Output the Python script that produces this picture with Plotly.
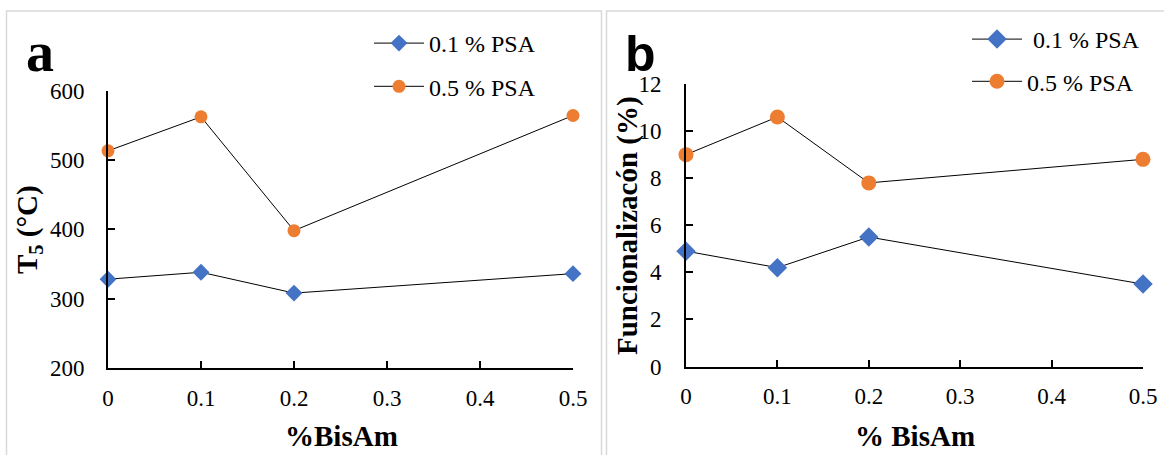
import plotly.graph_objects as go

# ---- data ----
bisam = [0, 0.1, 0.2, 0.5]
t5_psa01 = [328, 338, 308, 336]
t5_psa05 = [513, 562, 398, 564]
func_psa01 = [4.9, 4.2, 5.5, 3.5]
func_psa05 = [9.0, 10.6, 7.8, 8.8]
series_names = ["0.1 % PSA", "0.5 % PSA"]
x_ticks = [0, 0.1, 0.2, 0.3, 0.4, 0.5]
x_ticklabels = ["0", "0.1", "0.2", "0.3", "0.4", "0.5"]

W, H = 1164, 455
BLUE = "#4472C4"
ORANGE = "#ED7D31"
SERIF = "Liberation Serif"

def px(x):
    return x / W

def py(y):
    return 1 - y / H

fig = go.Figure()

# panel a
fig.add_trace(go.Scatter(x=bisam, y=t5_psa01, name=series_names[0], mode="lines+markers",
                         line=dict(color="black", width=1),
                         marker=dict(symbol="diamond", size=13, color=BLUE),
                         xaxis="x", yaxis="y", legend="legend", legendgroup="a1",
                         cliponaxis=False))
fig.add_trace(go.Scatter(x=bisam, y=t5_psa05, name=series_names[1], mode="lines+markers",
                         line=dict(color="black", width=1),
                         marker=dict(symbol="circle", size=13, color=ORANGE),
                         xaxis="x", yaxis="y", legend="legend", legendgroup="a2",
                         cliponaxis=False))
# panel b
fig.add_trace(go.Scatter(x=bisam, y=func_psa01, name=" " + series_names[0], mode="lines+markers",
                         line=dict(color="black", width=1),
                         marker=dict(symbol="diamond", size=15, color=BLUE),
                         xaxis="x2", yaxis="y2", legend="legend2", legendgroup="b1",
                         cliponaxis=False))
fig.add_trace(go.Scatter(x=bisam, y=func_psa05, name=series_names[1], mode="lines+markers",
                         line=dict(color="black", width=1),
                         marker=dict(symbol="circle", size=15, color=ORANGE),
                         xaxis="x2", yaxis="y2", legend="legend2", legendgroup="b2",
                         cliponaxis=False))

axis_common = dict(showline=True, linecolor="black", linewidth=2, showgrid=False,
                   zeroline=False, ticks="inside", ticklen=7, tickwidth=2,
                   tickcolor="black", tickfont=dict(family=SERIF, size=23, color="black"))

def ann(text, x, y, size, family=SERIF, angle=0):
    return dict(text=text, x=px(x), y=py(y), xref="paper", yref="paper", showarrow=False,
                xanchor="center", yanchor="middle", textangle=angle,
                font=dict(family=family, size=size, color="black"))

fig.update_layout(
    width=W, height=H,
    margin=dict(l=0, r=0, t=0, b=0, pad=0, autoexpand=False),
    paper_bgcolor="white", plot_bgcolor="white",
    font=dict(family=SERIF, color="black"),
    xaxis=dict(domain=[px(108), px(573)], range=[0, 0.5], anchor="y",
               tickvals=x_ticks, ticktext=x_ticklabels, ticklabelstandoff=8, **axis_common),
    yaxis=dict(domain=[py(368), py(90.5)], range=[200, 600], anchor="x",
               dtick=100, ticklabelstandoff=17, **axis_common),
    xaxis2=dict(domain=[px(686), px(1143)], range=[0, 0.5], anchor="y2",
                tickvals=x_ticks, ticktext=x_ticklabels, ticklabelstandoff=8, **axis_common),
    yaxis2=dict(domain=[py(366.5), py(84)], range=[0, 12], anchor="x2",
                dtick=2, ticklabelstandoff=18, **axis_common),
    legend=dict(x=px(369), y=py(21), xanchor="left", yanchor="top",
                font=dict(family=SERIF, size=24, color="black"),
                bgcolor="rgba(0,0,0,0)", tracegroupgap=9, itemwidth=50),
    legend2=dict(x=px(967), y=py(17), xanchor="left", yanchor="top",
                 font=dict(family=SERIF, size=24, color="black"),
                 bgcolor="rgba(0,0,0,0)", tracegroupgap=8, itemwidth=50),
    shapes=[
        dict(type="rect", xref="paper", yref="paper", x0=px(6.5), x1=px(601.5), y0=py(470), y1=py(11),
             line=dict(color="#d9d9d9", width=1.5)),
        dict(type="rect", xref="paper", yref="paper", x0=px(606.5), x1=px(1180), y0=py(470), y1=py(11),
             line=dict(color="#d9d9d9", width=1.5)),
    ],
    annotations=[
        ann("<b>a</b>", 40, 52, 56),
        ann("<b>b</b>", 640, 54, 50, family="Liberation Sans"),
        ann("<b>T<sub>5</sub> (°C)</b>", 29, 230, 29, angle=-90),
        ann("<b>Funcionalizacón (%)</b>", 627, 226, 29, angle=-90),
        ann("<b>%BisAm</b>", 341, 436, 29),
        ann("<b>% BisAm</b>", 915, 436, 29),
    ],
)

fig.write_html("out.html")
